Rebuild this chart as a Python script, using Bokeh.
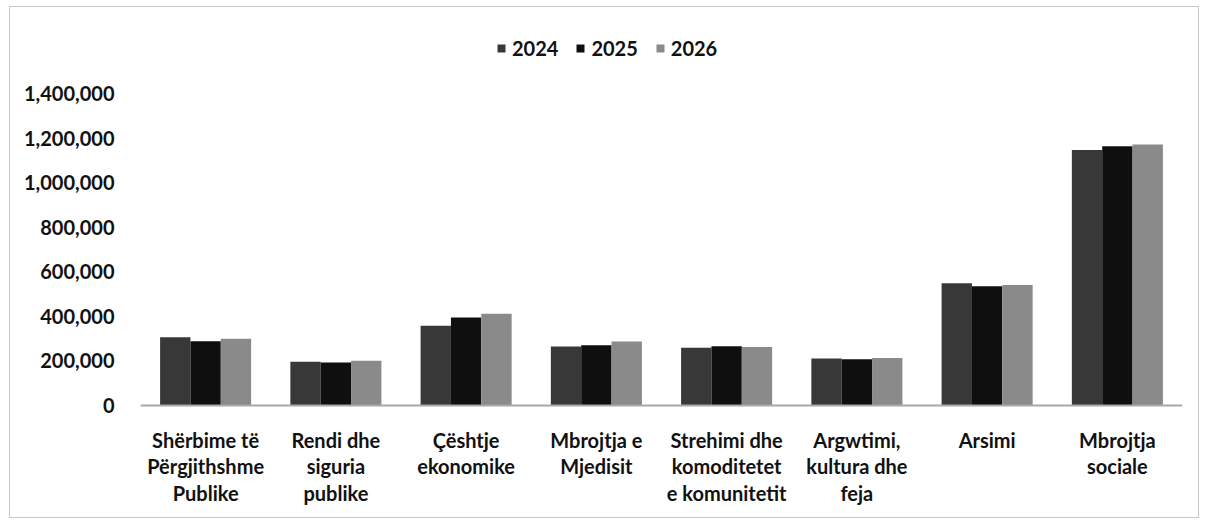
from bokeh.plotting import figure
from bokeh.models import (ColumnDataSource, Legend, LegendItem, FactorRange, NumeralTickFormatter,
                          FixedTicker, Range1d, Span, InlineStyleSheet)
from bokeh.core.properties import value
from bokeh.transform import dodge
from bokeh.embed import file_html
from bokeh.resources import INLINE

categories = ["Shërbime të Përgjithshme Publike", "Rendi dhe siguria publike",
              "Çështje ekonomike", "Mbrojtja e Mjedisit",
              "Strehimi dhe komoditetet e komunitetit", "Argwtimi, kultura dhe feja",
              "Arsimi", "Mbrojtja sociale"]
category_labels = ["Shërbime të\nPërgjithshme\nPublike", "Rendi dhe\nsiguria\npublike",
                   "Çështje\nekonomike", "Mbrojtja e\nMjedisit",
                   "Strehimi dhe\nkomoditetet\ne komunitetit", "Argwtimi,\nkultura dhe\nfeja",
                   "Arsimi", "Mbrojtja\nsociale"]
years = ["2024", "2025", "2026"]
v2024 = [306000, 196000, 358000, 265000, 259000, 211000, 549000, 1147000]
v2025 = [288000, 193000, 395000, 270000, 266000, 208000, 535000, 1163000]
v2026 = [299000, 201000, 412000, 287000, 262000, 213000, 541000, 1171000]
y_ticks = [0, 200000, 400000, 600000, 800000, 1000000, 1200000, 1400000]
colors = ["#383838", "#0f0f0f", "#8a8a8a"]

source = ColumnDataSource(data=dict(cat=categories, y2024=v2024, y2025=v2025, y2026=v2026,
                                    label=category_labels, zero=[0] * len(categories)))

FONT = "Lato"
W, H = 1208, 529
# plot-area geometry (pixels): value 0 at y=405, top tick at y=93
Y0_PX, YTOP_PX = 405, 93
YMAX = y_ticks[-1]
per_px = YMAX / (Y0_PX - YTOP_PX)
y_start = -(H - Y0_PX) * per_px
y_end = YMAX + YTOP_PX * per_px

p = figure(width=W, height=H, x_range=FactorRange(*categories), y_range=Range1d(y_start, y_end),
           output_backend="svg", toolbar_location=None,
           min_border_left=140, min_border_right=26, min_border_top=0, min_border_bottom=0)
p.outline_line_color = None
p.xgrid.grid_line_color = None
p.ygrid.grid_line_color = None
p.background_fill_color = "white"
p.border_fill_color = "white"
p.xaxis.visible = False
p.stylesheets = [InlineStyleSheet(css="""
:host::after {
  content: "";
  position: absolute;
  left: 9px; top: 6px; width: 1190px; height: 512px;
  border: 1.5px solid #c8c8c8;
  box-sizing: border-box;
  pointer-events: none;
  z-index: 100;
}
""")]

bw = 0.233
renderers = []
for i, (col, c) in enumerate(zip(["y2024", "y2025", "y2026"], colors)):
    r = p.vbar(x=dodge("cat", (i - 1) * bw, range=p.x_range), top=col, width=bw,
               source=source, fill_color=c, line_color=None)
    renderers.append(r)

p.add_layout(Span(location=0, dimension="width", line_color="#a8a8a8", line_width=2))

p.text(x="cat", y="zero", text="label", source=source, text_align="center", text_baseline="top",
       y_offset=22, text_font=value(FONT), text_font_style="bold", text_font_size="20px",
       text_color="#111111", text_line_height=1.12)

p.yaxis.ticker = FixedTicker(ticks=y_ticks)
p.yaxis.formatter = NumeralTickFormatter(format="0,0")
p.yaxis.axis_line_color = None
p.yaxis.major_tick_line_color = None
p.yaxis.minor_tick_line_color = None
p.yaxis.major_label_standoff = 20
p.yaxis.major_label_text_font = FONT
p.yaxis.major_label_text_font_style = "bold"
p.yaxis.major_label_text_font_size = "20px"
p.yaxis.major_label_text_color = "#111111"

legend = Legend(items=[LegendItem(label=y, renderers=[r]) for y, r in zip(years, renderers)],
                orientation="horizontal", location=(356, H - 60))
legend.label_text_font = FONT
legend.label_text_font_style = "bold"
legend.label_text_font_size = "20px"
legend.label_text_color = "#111111"
legend.glyph_width = 10
legend.glyph_height = 10
legend.label_standoff = 6
legend.spacing = 17
legend.border_line_color = None
legend.background_fill_alpha = 0
legend.margin = 0
legend.padding = 4
p.add_layout(legend, "center")

open("out.html", "w").write(file_html(p, INLINE))
